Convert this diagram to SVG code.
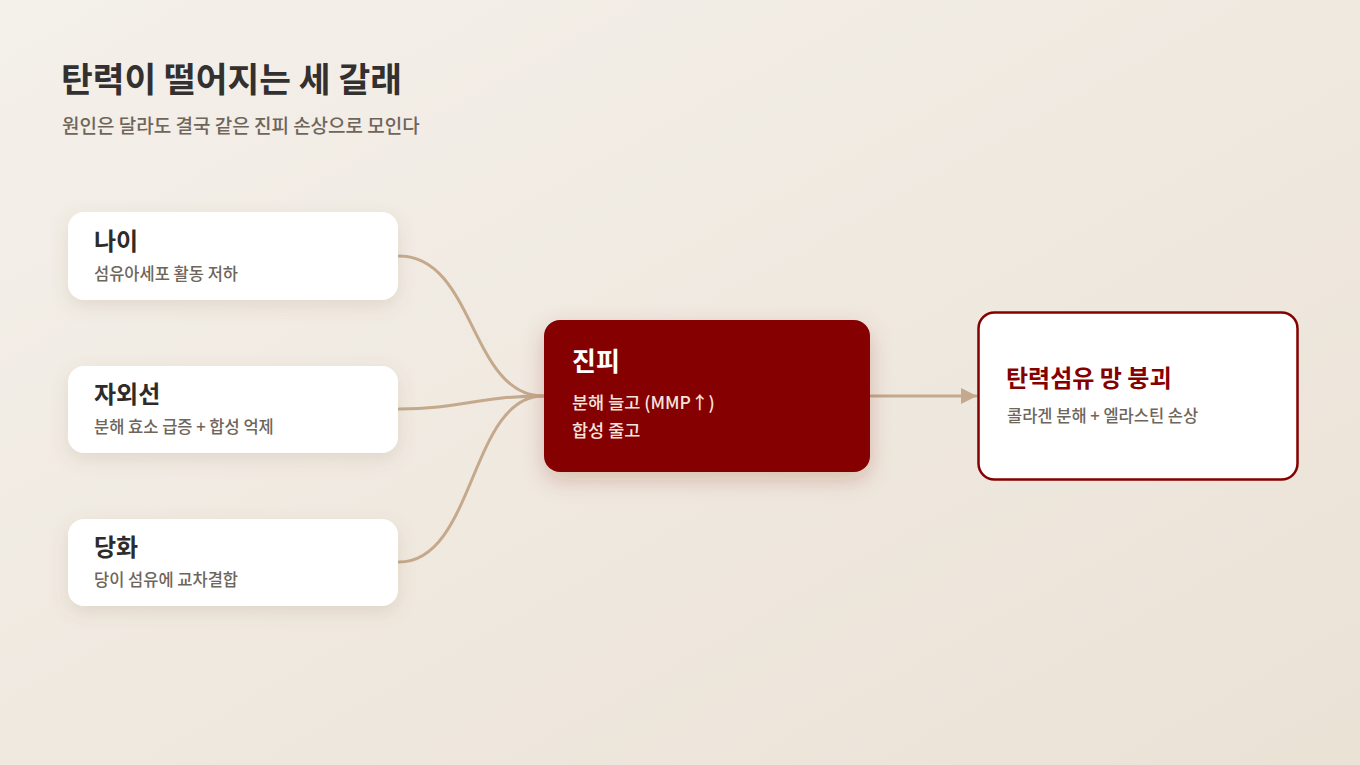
<svg xmlns="http://www.w3.org/2000/svg" width="1360" height="765" viewBox="0 0 1360 765">
<defs>
<linearGradient id="bg" x1="0" y1="0" x2="1" y2="1">
<stop offset="0" stop-color="#f4f0ea"/>
<stop offset="1" stop-color="#ebe2d6"/>
</linearGradient>
<filter id="sh" x="-20%" y="-30%" width="140%" height="170%">
<feDropShadow dx="0" dy="6" stdDeviation="9" flood-color="#8a6a4a" flood-opacity="0.16"/>
</filter>
<filter id="shd" x="-20%" y="-30%" width="140%" height="170%">
<feDropShadow dx="0" dy="8" stdDeviation="11" flood-color="#7a2a10" flood-opacity="0.22"/>
</filter>
<marker id="arr" markerWidth="16" markerHeight="16" viewBox="0 0 16 16" refX="15" refY="8" orient="auto" markerUnits="userSpaceOnUse">
<path d="M0,0 L16,8 L0,16 Z" fill="#c4a98c"/>
</marker>
<style>
text{font-family:"Noto Sans CJK KR","Noto Sans",sans-serif}
.t{font-size:34.5px;font-weight:700;fill:#333030}
.st{font-size:19px;font-weight:500;fill:#6e655b}
.card{fill:#ffffff}
.h{font-size:24px;font-weight:700;fill:#2e2b2b}
.s{font-size:16.5px;font-weight:500;fill:#6e655b}
.c{fill:none;stroke:#c4a98c;stroke-width:3;stroke-linecap:round}
</style>
</defs>
<rect width="1360" height="765" fill="url(#bg)"/>
<text class="t" x="61" y="92">탄력이 떨어지는 세 갈래</text>
<text class="st" x="62" y="133">원인은 달라도 결국 같은 진피 손상으로 모인다</text>

<g id="connectors">
<path class="c" d="M399,256 C475,256 470,396 543,396"/>
<path class="c" d="M399,409 C460,409 480,396 543,396"/>
<path class="c" d="M399,562 C475,562 470,396 543,396"/>
<path class="c" d="M871,396 L976,396" marker-end="url(#arr)"/>
</g>

<g id="node-age">
<rect class="card" x="68" y="212" width="330" height="88" rx="16" filter="url(#sh)"/>
<text class="h" x="94" y="250">나이</text>
<text class="s" x="94" y="280">섬유아세포 활동 저하</text>
</g>
<g id="node-uv">
<rect class="card" x="68" y="366" width="330" height="87" rx="16" filter="url(#sh)"/>
<text class="h" x="94" y="403">자외선</text>
<text class="s" x="94" y="433">분해 효소 급증 + 합성 억제</text>
</g>
<g id="node-glycation">
<rect class="card" x="68" y="519" width="330" height="87" rx="16" filter="url(#sh)"/>
<text class="h" x="94" y="556">당화</text>
<text class="s" x="94" y="586">당이 섬유에 교차결합</text>
</g>
<g id="node-dermis">
<rect x="544" y="320" width="326" height="152" rx="16" fill="#850000" filter="url(#shd)"/>
<text x="572" y="371" style="font-size:26px;font-weight:700;fill:#ffffff">진피</text>
<text x="572" y="409" style="font-size:17.5px;font-weight:500;fill:#f5e4dc">분해 늘고 (MMP↑)</text>
<text x="572" y="437" style="font-size:17.5px;font-weight:500;fill:#f5e4dc">합성 줄고</text>
</g>
<g id="node-collapse">
<rect x="978.5" y="312.5" width="319" height="167" rx="16" fill="#ffffff" stroke="#850000" stroke-width="2.5"/>
<text x="1006" y="387" style="font-size:24px;font-weight:700;fill:#850000">탄력섬유 망 붕괴</text>
<text class="s" x="1007" y="422">콜라겐 분해 + 엘라스틴 손상</text>
</g>
</svg>
